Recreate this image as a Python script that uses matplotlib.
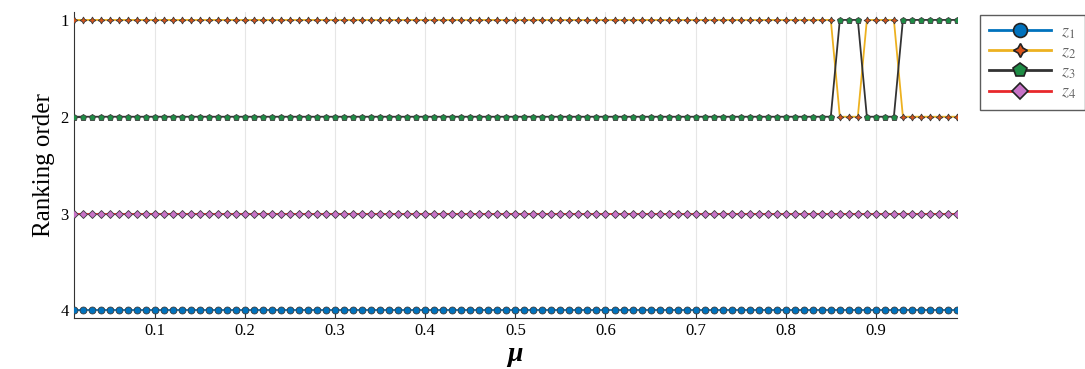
import numpy as np
import matplotlib
matplotlib.use("Agg")
import matplotlib.pyplot as plt

plt.rcParams["font.family"] = "Liberation Serif"
plt.rcParams["mathtext.fontset"] = "stix"

mu = np.round(np.arange(1, 100) / 100, 2)

rank_z1 = [4] * 99
rank_z4 = [3] * 99
# z3 sits at rank 2 until mu = 0.85, then swaps with z2 twice
rank_z3 = [2] * 85 + [1] * 3 + [2] * 4 + [1] * 7
rank_z2 = [3 - r for r in rank_z3]

series = [
    ("$z_1$", rank_z1, "#0072BD", "o", "#0072BD", 5, 10),
    ("$z_2$", rank_z2, "#EDB120", (4, 1, 0), "#D95319", 5, 10),
    ("$z_3$", rank_z3, "#333333", "p", "#1E8C45", 5, 10),
    ("$z_4$", rank_z4, "#E8282B", "D", "#C773C7", 3.6, 8),
]

fig = plt.figure(figsize=(10.85, 3.69), dpi=100)
ax = fig.add_axes([0.068, 0.138, 0.814, 0.829])

handles = []
for label, ranks, col, mk, fc, ms, lms in series:
    ax.plot(mu, ranks, color=col, lw=1.3, zorder=2)
    ax.plot(mu, ranks, ls="none", marker=mk, ms=ms, mfc=fc, mec="#3a3a3a",
            mew=0.6, zorder=3)
    h, = ax.plot([], [], color=col, lw=2, marker=mk, ms=lms, mfc=fc,
                 mec="#222222", mew=1.2, label=label)
    handles.append(h)

ax.set_xlim(0.01, 0.99)
ax.set_ylim(4.08, 0.92)
ticks = np.round(np.arange(0.1, 0.95, 0.1), 1)
ax.set_xticks(ticks)
ax.set_xticklabels([f"{v:.1f}" for v in ticks])
ax.set_yticks([1, 2, 3, 4])
ax.tick_params(direction="in", labelsize=12, length=4, color="#333333")
ax.grid(axis="x", color="#e6e6e6", lw=0.8)
ax.set_axisbelow(True)
for s in ["top", "right"]:
    ax.spines[s].set_visible(False)
for s in ["left", "bottom"]:
    ax.spines[s].set_color("#333333")

ax.set_ylabel("Ranking order", fontsize=18)
ax.set_xlabel("μ", fontsize=20, fontweight="bold", fontstyle="italic",
              labelpad=2)

leg = fig.legend(handles=handles, loc="upper left",
                 bbox_to_anchor=(0.895, 0.985), frameon=True,
                 fancybox=False, edgecolor="#333333", fontsize=13,
                 handlelength=3.4, labelspacing=0.15, borderpad=0.5,
                 handletextpad=0.6)
for t in leg.get_texts():
    t.set_color("#666666")

fig.savefig("out.png", dpi=100)
